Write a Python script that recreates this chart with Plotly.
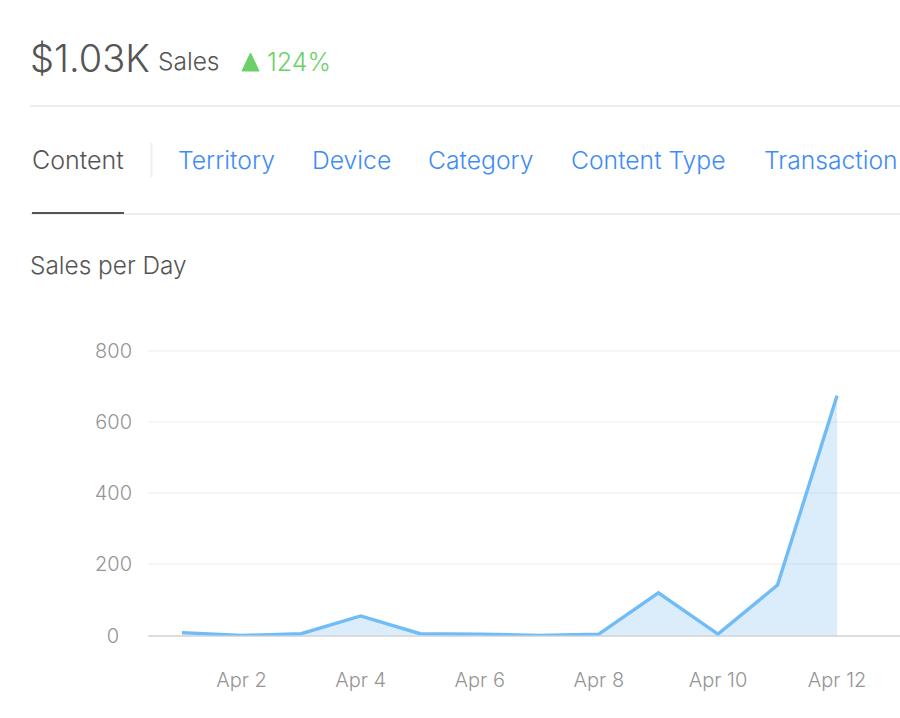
import plotly.graph_objects as go

days = ["2019-04-01", "2019-04-02", "2019-04-03", "2019-04-04", "2019-04-05", "2019-04-06",
        "2019-04-07", "2019-04-08", "2019-04-09", "2019-04-10", "2019-04-11", "2019-04-12"]
sales = [8, 0, 5, 55, 5, 4, 0, 4, 120, 4, 142, 675]
tick_days = ["2019-04-02", "2019-04-04", "2019-04-06", "2019-04-08", "2019-04-10", "2019-04-12"]
tick_labels = ["Apr 2", "Apr 4", "Apr 6", "Apr 8", "Apr 10", "Apr 12"]
y_ticks = [0, 200, 400, 600, 800]
y_labels = ["0\u2007", "200", "400", "600", "800"]
tabs = ["Territory", "Device", "Category", "Content Type", "Transaction"]
tab_x = [178, 311.5, 427.5, 571, 763.5]

W, H = 900, 718
FONT = "Inter"
DARK = "#555555"
BLUE = "#3f8cf5"
GREEN = "#6dd067"
RULE = "#eeeeee"


def px(x):
    return x / W


def py(y):
    return 1 - y / H


fig = go.Figure(go.Scatter(
    x=days, y=sales, mode="lines",
    line=dict(color="#6fbcf7", width=3.4, shape="linear"),
    fill="tozeroy", fillcolor="rgba(111,178,240,0.25)",
    hoverinfo="skip", showlegend=False,
))


def text(x, y, s, size, color, weight=300):
    fig.add_annotation(
        x=px(x), y=py(y), xref="paper", yref="paper", text=s, showarrow=False,
        xanchor="left", yanchor="middle", borderpad=0, borderwidth=0,
        font=dict(family=FONT, size=size, color=color, weight=weight),
    )


def rule(x0, y0, x1, y1, color=RULE, width=2):
    fig.add_shape(type="line", xref="paper", yref="paper",
                  x0=px(x0), y0=py(y0), x1=px(x1), y1=py(y1),
                  line=dict(color=color, width=width), layer="above")


text(29.5, 57.5, "$1.03K", 38, DARK)
text(158, 61, "Sales", 24.5, DARK)
text(266.5, 62, "124%", 25, GREEN)
fig.add_shape(type="path", xref="paper", yref="paper",
              path=f"M {px(242)} {py(71)} L {px(250.5)} {py(53)} L {px(259)} {py(71)} Z",
              fillcolor=GREEN, line=dict(color=GREEN, width=1), layer="above")

rule(30, 106, 900, 106)
text(31.5, 160, "Content", 25, DARK)
rule(151.5, 143, 151.5, 177)
for label, x in zip(tabs, tab_x):
    text(x, 160, label, 24.7, BLUE)
rule(30, 214, 900, 214)
rule(32, 213, 124, 213, DARK, 2)
text(30, 265, "Sales per Day", 24.4, DARK)

fig.update_layout(
    width=W, height=H, margin=dict(l=0, r=0, t=0, b=0),
    paper_bgcolor="white", plot_bgcolor="white",
    font=dict(family=FONT, size=20, color="#959595", weight=300),
    xaxis=dict(
        domain=[148 / W, 1], type="date",
        range=["2019-03-31 10:18", "2019-04-13 01:22"],
        tickmode="array", tickvals=tick_days, ticktext=tick_labels,
        showgrid=False, zeroline=False, showline=False, ticks="", ticklen=0,
        tickangle=0, automargin=False, ticklabelstandoff=30,
    ),
    yaxis=dict(
        domain=[(H - 635.5) / H, 1 - 330 / H], range=[0, 860],
        tickmode="array", tickvals=y_ticks, ticktext=y_labels,
        showgrid=True, gridcolor="#f5f5f5", gridwidth=2,
        zeroline=True, zerolinecolor="#dddddd", zerolinewidth=2,
        showline=False, ticks="", automargin=False, ticklabelstandoff=15,
    ),
)

fig.write_html("out.html", config={"displayModeBar": False},
               post_script="document.body.style.margin='0';")
